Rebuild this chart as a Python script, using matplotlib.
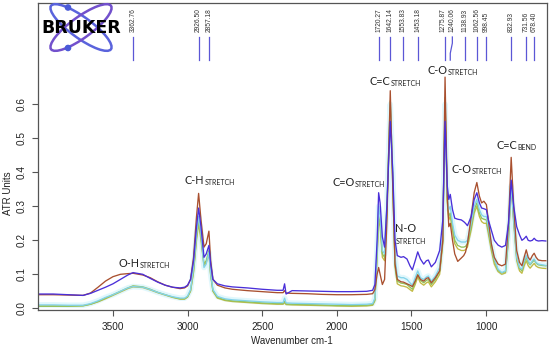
import matplotlib
matplotlib.use('Agg')
import matplotlib.pyplot as plt
from matplotlib.patches import Ellipse, Circle

wavenumber = [4000, 3900, 3800, 3700, 3650, 3600, 3550, 3500, 3450, 3400,
              3365, 3300, 3250, 3200, 3150, 3100, 3050, 3020, 3000, 2980,
              2960, 2940, 2926, 2910, 2890, 2875, 2857, 2845, 2830, 2800,
              2750, 2700, 2600, 2500, 2400, 2360, 2350, 2340, 2300, 2200,
              2100, 2000, 1900, 1800, 1760, 1745, 1730, 1720, 1710, 1695,
              1680, 1665, 1642, 1625, 1610, 1595, 1570, 1553, 1530, 1510,
              1494, 1475, 1458, 1440, 1418, 1400, 1387, 1367, 1340, 1311,
              1290, 1275, 1260, 1250, 1240, 1225, 1210, 1190, 1166, 1150,
              1138, 1125, 1100, 1080, 1062, 1045, 1030, 1015, 998, 985,
              965, 945, 920, 895, 870, 850, 832, 815, 795, 776,
              760, 745, 731, 718, 705, 690, 678, 665, 650, 625,
              600]

purple = [0.042, 0.042, 0.040, 0.038, 0.044, 0.053, 0.062, 0.072, 0.085, 0.098,
          0.105, 0.100, 0.088, 0.077, 0.068, 0.062, 0.060, 0.062, 0.068, 0.085,
          0.140, 0.240, 0.295, 0.240, 0.150, 0.160, 0.185, 0.130, 0.085, 0.072,
          0.066, 0.063, 0.060, 0.056, 0.053, 0.053, 0.072, 0.042, 0.052, 0.051,
          0.050, 0.049, 0.049, 0.050, 0.053, 0.070, 0.200, 0.340, 0.310, 0.210,
          0.180, 0.300, 0.550, 0.400, 0.200, 0.155, 0.150, 0.152, 0.145, 0.125,
          0.113, 0.140, 0.166, 0.145, 0.130, 0.140, 0.142, 0.122, 0.135, 0.170,
          0.260, 0.550, 0.360, 0.320, 0.335, 0.290, 0.265, 0.262, 0.260, 0.255,
          0.250, 0.243, 0.270, 0.320, 0.340, 0.310, 0.295, 0.293, 0.290, 0.260,
          0.230, 0.200, 0.186, 0.180, 0.185, 0.250, 0.377, 0.300, 0.240, 0.216,
          0.200, 0.205, 0.212, 0.200, 0.198, 0.200, 0.206, 0.200, 0.198, 0.199,
          0.198]

brown = [0.040, 0.040, 0.039, 0.038, 0.045, 0.062, 0.080, 0.093, 0.100, 0.102,
         0.103, 0.098, 0.090, 0.078, 0.068, 0.062, 0.058, 0.060, 0.066, 0.085,
         0.150, 0.270, 0.338, 0.260, 0.180, 0.190, 0.227, 0.140, 0.085, 0.068,
         0.060, 0.056, 0.052, 0.049, 0.046, 0.046, 0.052, 0.045, 0.044, 0.043,
         0.041, 0.040, 0.040, 0.041, 0.043, 0.055, 0.100, 0.120, 0.100, 0.070,
         0.085, 0.250, 0.640, 0.350, 0.130, 0.085, 0.078, 0.077, 0.072, 0.068,
         0.064, 0.080, 0.098, 0.085, 0.080, 0.088, 0.090, 0.075, 0.090, 0.110,
         0.200, 0.680, 0.330, 0.240, 0.250, 0.200, 0.160, 0.138, 0.148, 0.155,
         0.165, 0.190, 0.270, 0.340, 0.370, 0.330, 0.310, 0.315, 0.305, 0.260,
         0.190, 0.150, 0.130, 0.125, 0.130, 0.250, 0.444, 0.300, 0.170, 0.135,
         0.125, 0.150, 0.172, 0.150, 0.142, 0.155, 0.162, 0.150, 0.142, 0.140,
         0.140]

cyan = [0.010, 0.010, 0.009, 0.009, 0.014, 0.022, 0.032, 0.040, 0.050, 0.060,
        0.064, 0.062, 0.055, 0.047, 0.040, 0.034, 0.030, 0.030, 0.036, 0.055,
        0.120, 0.220, 0.270, 0.220, 0.120, 0.130, 0.165, 0.100, 0.055, 0.035,
        0.028, 0.025, 0.022, 0.019, 0.017, 0.017, 0.030, 0.016, 0.015, 0.014,
        0.013, 0.012, 0.011, 0.012, 0.014, 0.030, 0.180, 0.300, 0.270, 0.170,
        0.160, 0.300, 0.600, 0.400, 0.150, 0.095, 0.090, 0.090, 0.085, 0.075,
        0.068, 0.090, 0.110, 0.090, 0.085, 0.092, 0.095, 0.080, 0.095, 0.120,
        0.220, 0.600, 0.330, 0.290, 0.300, 0.250, 0.215, 0.200, 0.195, 0.195,
        0.195, 0.200, 0.250, 0.300, 0.320, 0.290, 0.275, 0.270, 0.270, 0.240,
        0.190, 0.145, 0.115, 0.105, 0.110, 0.220, 0.360, 0.260, 0.150, 0.120,
        0.115, 0.140, 0.155, 0.140, 0.130, 0.140, 0.145, 0.135, 0.130, 0.128,
        0.126]

green = [0.006, 0.006, 0.006, 0.007, 0.012, 0.020, 0.030, 0.040, 0.050, 0.060,
         0.066, 0.063, 0.056, 0.047, 0.040, 0.033, 0.028, 0.028, 0.034, 0.052,
         0.110, 0.210, 0.260, 0.210, 0.130, 0.140, 0.170, 0.100, 0.052, 0.032,
         0.025, 0.022, 0.019, 0.016, 0.014, 0.014, 0.020, 0.013, 0.012, 0.011,
         0.010, 0.008, 0.008, 0.009, 0.011, 0.025, 0.160, 0.270, 0.250, 0.160,
         0.150, 0.290, 0.610, 0.380, 0.130, 0.080, 0.074, 0.073, 0.070, 0.062,
         0.056, 0.078, 0.100, 0.082, 0.075, 0.082, 0.085, 0.070, 0.085, 0.110,
         0.200, 0.620, 0.320, 0.270, 0.280, 0.240, 0.200, 0.185, 0.180, 0.180,
         0.182, 0.190, 0.240, 0.290, 0.310, 0.280, 0.265, 0.262, 0.260, 0.230,
         0.180, 0.140, 0.112, 0.104, 0.108, 0.210, 0.370, 0.260, 0.150, 0.118,
         0.110, 0.135, 0.150, 0.135, 0.128, 0.136, 0.142, 0.133, 0.128, 0.126,
         0.125]

yellow = [0.007, 0.007, 0.007, 0.008, 0.012, 0.019, 0.028, 0.038, 0.048, 0.058,
          0.063, 0.061, 0.054, 0.046, 0.039, 0.032, 0.027, 0.027, 0.033, 0.050,
          0.105, 0.200, 0.250, 0.200, 0.125, 0.135, 0.160, 0.095, 0.050, 0.030,
          0.023, 0.020, 0.017, 0.014, 0.012, 0.012, 0.017, 0.011, 0.010, 0.009,
          0.008, 0.007, 0.006, 0.007, 0.009, 0.022, 0.150, 0.260, 0.240, 0.150,
          0.140, 0.280, 0.590, 0.360, 0.120, 0.072, 0.066, 0.065, 0.062, 0.055,
          0.050, 0.070, 0.092, 0.075, 0.068, 0.075, 0.078, 0.063, 0.078, 0.100,
          0.190, 0.600, 0.310, 0.260, 0.270, 0.230, 0.190, 0.175, 0.170, 0.170,
          0.172, 0.180, 0.230, 0.280, 0.300, 0.270, 0.255, 0.250, 0.250, 0.220,
          0.170, 0.130, 0.108, 0.100, 0.104, 0.200, 0.360, 0.250, 0.140, 0.110,
          0.103, 0.125, 0.140, 0.125, 0.118, 0.126, 0.132, 0.124, 0.120, 0.118,
          0.117]

peak_positions = [3362.76, 2926.50, 2857.18, 1720.27, 1642.14, 1553.83, 1453.18,
                  1275.87, 1240.06, 1138.93, 1062.56, 998.45, 832.93, 731.56, 678.40]
peak_labels = ['3362.76', '2926.50', '2857.18', '1720.27', '1642.14', '1553.83', '1453.18',
               '1275.87', '1240.06', '1138.93', '1062.56', '998.45', '832.93', '731.56', '678.40']

x_ticks = [3500, 3000, 2500, 2000, 1500, 1000]
y_ticks = [0.0, 0.1, 0.2, 0.3, 0.4, 0.5, 0.6]

band_text = [('O-H', 'STRETCH', 3460, 0.122),
             ('C-H', 'STRETCH', 3018, 0.365),
             ('C=O', 'STRETCH', 2032, 0.361),
             ('C=C', 'STRETCH', 1780, 0.657),
             ('C-O', 'STRETCH', 1394, 0.689),
             ('C-O', 'STRETCH', 1233, 0.397),
             ('C=C', 'BEND', 932, 0.470)]

plt.rcParams['font.family'] = ['Liberation Sans', 'DejaVu Sans']

fig = plt.figure(figsize=(5.5, 3.49), dpi=100)
ax = fig.add_axes([38 / 550, 1 - 309.5 / 349, (547 - 38) / 550, (309.5 - 3) / 349])
ax.set_xlim(4002, 592)
ax.set_ylim(-0.0035, 0.898)

series = [(yellow, '#c2bb44'), (green, '#93c25c'), (cyan, '#84d3ea'),
          (brown, '#a9502f'), (purple, '#4a2fd9')]
# faint cyan glow
ax.plot(wavenumber, cyan, color='#cdf3fb', lw=4, alpha=0.6, zorder=1)
for vals, col in series:
    ax.plot(wavenumber, vals, color=col, lw=0.95, zorder=2)

# peak markers (label offsets keep the two close labels apart)
label_shift = {'1275.87': 12, '1240.06': -14}
for pos, lab in zip(peak_positions, peak_labels):
    if lab == '1240.06':
        ax.plot([pos - 14, pos - 14, pos, pos], [0.798, 0.780, 0.750, 0.730],
                color='#5b57d6', lw=0.9)
    else:
        ax.plot([pos, pos], [0.730, 0.798], color='#5b57d6', lw=0.9)
    ax.text(pos + label_shift.get(lab, 0), 0.813, lab, rotation=90, ha='center',
            va='bottom', fontsize=4.8, color='#333333')

# band annotations
for main, sub, xw, yv in band_text:
    t = ax.text(xw, yv, main, fontsize=7.8, family='Lato', color='#222222',
                ha='left', va='baseline', zorder=5)
    ax.annotate(sub, xy=(1, 0), xycoords=t, fontsize=5, family='Lato',
                color='#222222', ha='left', va='bottom', zorder=5)
ax.text(1608, 0.225, 'N-O', fontsize=7.8, family='Lato', color='#222222',
        ha='left', va='baseline')
ax.text(1608, 0.189, 'STRETCH', fontsize=5, family='Lato', color='#222222',
        ha='left', va='baseline')

ax.set_xticks(x_ticks)
ax.set_xticklabels([str(v) for v in x_ticks])
ax.set_yticks(y_ticks)
ax.set_yticklabels(['%.1f' % v for v in y_ticks], rotation=90, va='center')
ax.tick_params(axis='both', direction='out', length=4, width=0.8, color='#555555',
               labelsize=7.2, labelcolor='#222222')
ax.tick_params(axis='x', pad=5)
ax.tick_params(axis='y', pad=4)
for sp in ax.spines.values():
    sp.set_color('#555555')
    sp.set_linewidth(0.9)

fig.text(8 / 550, 1 - 193 / 349, 'ATR Units', rotation=90, ha='center', va='center',
         fontsize=7, color='#222222')
fig.text(292 / 550, 1 - 341 / 349, 'Wavenumber cm-1', ha='center', va='center',
         fontsize=7, color='#222222')

# logo overlay in pixel coordinates
lax = fig.add_axes([0, 0, 1, 1], facecolor='none')
lax.set_xlim(0, 550)
lax.set_ylim(349, 0)
lax.axis('off')
lax.add_patch(Ellipse((81, 27.5), 74, 21, angle=36, fill=False, ec='#5a63dc', lw=1.8))
lax.add_patch(Ellipse((81, 27.5), 74, 21, angle=-36, fill=False, ec='#7250cc', lw=1.8))
lax.add_patch(Circle((68, 7.5), 2.6, color='#4a5ad8'))
lax.add_patch(Circle((68, 48), 2.6, color='#4a5ad8'))
lax.text(81.5, 28, 'BRUKER', family='DejaVu Sans', weight='bold', fontsize=12.5,
         ha='center', va='center', color='black')

fig.savefig('out.png', dpi=100)
